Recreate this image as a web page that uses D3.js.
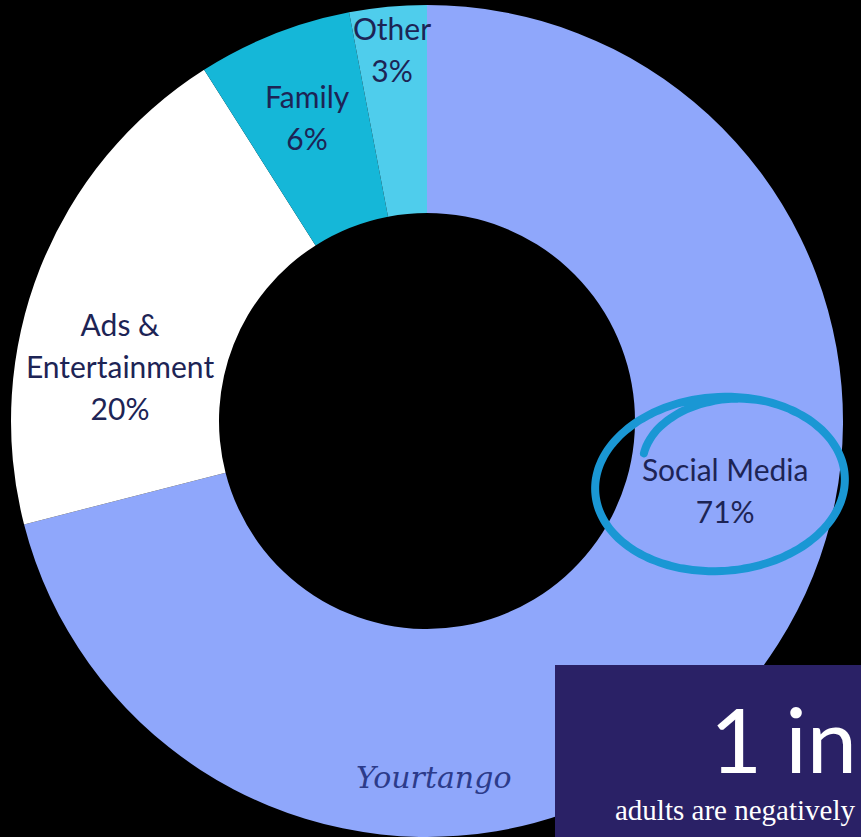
<!DOCTYPE html>
<html>
<head>
<meta charset="utf-8">
<script src="https://cdn.jsdelivr.net/npm/d3@7"></script>
<style>
  html, body { margin: 0; padding: 0; background: #000; overflow: hidden; }
</style>
</head>
<body>
<script>
// Chart data
const categories = ['Social Media', 'Ads & Entertainment', 'Family', 'Other'];
const values = [71, 20, 6, 3];
const labelLines = [['Social Media'], ['Ads &', 'Entertainment'], ['Family'], ['Other']];
const sliceColors = ['#8fa7fb', '#ffffff', '#15b7d8', '#4fcdec'];

// Layout
const width = 861, height = 837;
const cx = 427, cy = 421;
const outerR = 416, innerR = 208;
const lineH = 42;
// label nudges: degrees off the slice mid-angle, radius of label anchor
const labelShift = [{ da: -22.6, r: 309 }, { da: -13.6, r: 310 }, { da: -0.7, r: 316 }, { da: -0.15, r: 362 }];

const svg = d3.select('body').append('svg')
  .attr('width', width)
  .attr('height', height)
  .style('display', 'block');

svg.append('rect').attr('width', width).attr('height', height).attr('fill', '#000');

const data = categories.map((c, i) => ({ name: c, value: values[i], lines: labelLines[i], color: sliceColors[i], shift: labelShift[i] }));

const pie = d3.pie().sort(null).value(d => d.value);
const arc = d3.arc().innerRadius(innerR).outerRadius(outerR);
const arcs = pie(data);

const g = svg.append('g').attr('transform', `translate(${cx},${cy})`);

g.selectAll('path.slice')
  .data(arcs)
  .join('path')
  .attr('class', 'slice')
  .attr('d', arc)
  .attr('fill', d => d.data.color);

// labels
const labels = g.selectAll('g.label')
  .data(arcs)
  .join('g')
  .attr('class', 'label')
  .attr('transform', d => {
    const a = (d.startAngle + d.endAngle) / 2 + d.data.shift.da * Math.PI / 180;
    const r = d.data.shift.r;
    return `translate(${Math.sin(a) * r},${-Math.cos(a) * r})`;
  });

labels.each(function(d) {
  const lines = [...d.data.lines, d.data.value + '%'];
  const n = lines.length;
  d3.select(this).selectAll('text')
    .data(lines)
    .join('text')
    .attr('text-anchor', 'middle')
    .attr('y', (t, i) => (i - (n - 1) / 2) * lineH)
    .attr('font-family', 'Lato, "Open Sans", sans-serif')
    .attr('font-size', 30)
    .attr('fill', '#1d2455')
    .text(t => t);
});

// hand drawn circle round Social Media
const ring = { x: 720, y: 484, rx: 125, ry: 87, rot: -4 };
const ringPts = d3.range(215, 662, 3).map(t => {
  const k = t < 300 ? 0.72 + 0.28 * d3.easeSinOut((t - 215) / 85) : 1;
  const a = t * Math.PI / 180;
  const ex = ring.rx * k * Math.cos(a), ey = ring.ry * k * Math.sin(a);
  const r = ring.rot * Math.PI / 180;
  return [ring.x + ex * Math.cos(r) - ey * Math.sin(r), ring.y + ex * Math.sin(r) + ey * Math.cos(r)];
});
svg.append('path')
  .attr('d', d3.line().curve(d3.curveCatmullRom)(ringPts))
  .attr('fill', 'none')
  .attr('stroke', '#1a97d4')
  .attr('stroke-width', 8)
  .attr('stroke-linecap', 'round');

// logo
svg.append('text')
  .attr('x', 356)
  .attr('y', 788)
  .attr('font-family', '"DejaVu Serif", serif')
  .attr('font-style', 'italic')
  .attr('font-size', 30)
  .attr('fill', '#2c3b8a')
  .text('Yourtango');

// stat box
svg.append('rect')
  .attr('x', 555).attr('y', 665)
  .attr('width', width - 555).attr('height', height - 665)
  .attr('fill', '#2a2166');

svg.append('text')
  .attr('x', 710).attr('y', 773)
  .attr('font-family', 'Lato, sans-serif')
  .attr('font-size', 90)
  .attr('fill', '#fff')
  .text('1 in');

svg.append('text')
  .attr('x', 615).attr('y', 820)
  .attr('font-family', '"Liberation Serif", serif')
  .attr('font-size', 29)
  .attr('fill', '#fff')
  .text('adults are negatively');
</script>
</body>
</html>
